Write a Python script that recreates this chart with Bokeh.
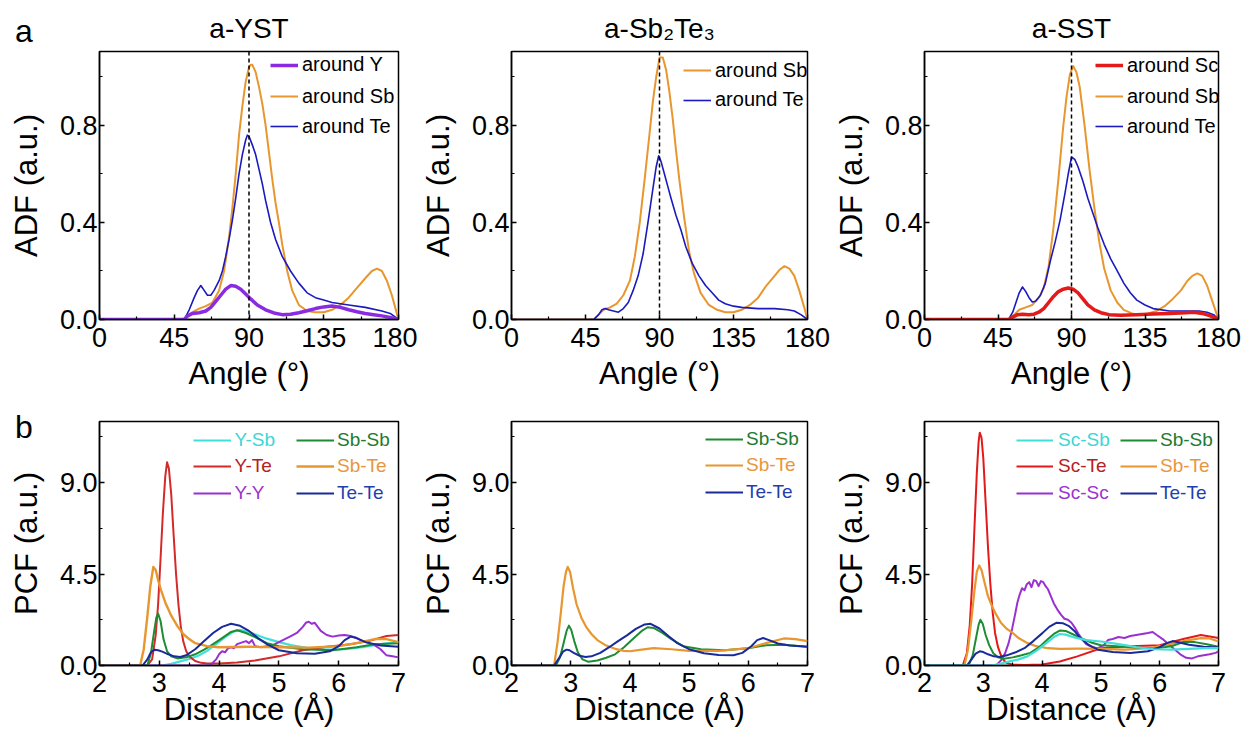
from bokeh.plotting import figure
from bokeh.models import (Range1d, FixedTicker, PrintfTickFormatter, Span,
                          Legend, LegendItem, GridBox, Div)
from bokeh.embed import file_html
from bokeh.resources import INLINE

FONT = "Liberation Sans"

# ---------------- ADF data (angle in degrees, ADF in a.u.) ----------------
# a-YST
yst_Y_ang = [0, 51, 53, 56, 60, 64, 67, 70, 73, 76, 79, 82, 85, 88, 91, 95, 100, 105, 110, 115, 120,
             125, 130, 135, 140, 145, 150, 155, 160, 165, 170, 175, 180]
yst_Y_adf = [0, 0, 0.015, 0.025, 0.028, 0.035, 0.05, 0.075, 0.1, 0.125, 0.14, 0.137, 0.125, 0.105,
             0.085, 0.06, 0.04, 0.027, 0.02, 0.022, 0.028, 0.036, 0.045, 0.052, 0.056, 0.05, 0.04,
             0.032, 0.025, 0.02, 0.015, 0.008, 0.0]
yst_Sb_ang = [0, 50, 53, 56, 60, 64, 68, 72, 75, 78, 80, 82, 84, 86, 88, 90, 91, 92, 94, 96, 98, 100,
              102, 104, 106, 108, 110, 113, 116, 120, 125, 130, 135, 140, 145, 150, 155, 160, 164,
              167, 170, 173, 176, 178, 180]
yst_Sb_adf = [0, 0, 0.01, 0.03, 0.045, 0.055, 0.07, 0.12, 0.2, 0.34, 0.46, 0.6, 0.76, 0.88, 0.98,
              1.04, 1.05, 1.05, 1.02, 0.96, 0.89, 0.8, 0.69, 0.58, 0.48, 0.4, 0.31, 0.2, 0.12, 0.06,
              0.035, 0.03, 0.03, 0.04, 0.06, 0.09, 0.13, 0.17, 0.2, 0.21, 0.2, 0.16, 0.1, 0.05, 0.0]
yst_Te_ang = [0, 51, 54, 57, 59, 61, 63, 65, 67, 69, 72, 74, 76, 78, 80, 82, 84, 86, 88, 89, 90, 92,
              94, 96, 98, 100, 103, 106, 110, 115, 120, 125, 130, 135, 140, 150, 160, 170, 175, 180]
yst_Te_adf = [0, 0, 0.04, 0.09, 0.12, 0.14, 0.12, 0.1, 0.1, 0.12, 0.16, 0.2, 0.26, 0.33, 0.41, 0.5,
              0.6, 0.68, 0.74, 0.76, 0.755, 0.72, 0.68, 0.62, 0.56, 0.49, 0.4, 0.33, 0.26, 0.2, 0.15,
              0.11, 0.09, 0.08, 0.07, 0.06, 0.05, 0.035, 0.025, 0.0]

# a-Sb2Te3
st_Sb_ang = [0, 50, 53, 56, 60, 64, 68, 72, 75, 78, 81, 84, 86, 88, 90, 92, 94, 96, 98, 100, 102,
             105, 108, 111, 115, 120, 125, 130, 135, 140, 145, 150, 155, 160, 163, 166, 169, 172,
             175, 178, 180]
st_Sb_adf = [0, 0, 0.02, 0.04, 0.05, 0.065, 0.1, 0.16, 0.26, 0.4, 0.58, 0.77, 0.9, 1.0, 1.08, 1.08,
             1.03, 0.94, 0.83, 0.7, 0.58, 0.42, 0.28, 0.19, 0.11, 0.06, 0.04, 0.03, 0.03, 0.04, 0.06,
             0.09, 0.14, 0.18, 0.205, 0.22, 0.21, 0.18, 0.12, 0.05, 0.0]
st_Te_ang = [0, 50, 53, 55, 57, 59, 62, 65, 68, 71, 74, 77, 80, 83, 86, 88, 89.5, 91, 93, 95, 97,
             100, 103, 106, 110, 114, 118, 122, 126, 130, 135, 140, 150, 160, 168, 172, 176, 180]
st_Te_adf = [0, 0, 0.02, 0.04, 0.045, 0.04, 0.035, 0.03, 0.045, 0.07, 0.12, 0.18, 0.27, 0.4, 0.54,
             0.63, 0.675, 0.65, 0.6, 0.55, 0.5, 0.43, 0.37, 0.3, 0.23, 0.18, 0.14, 0.11, 0.08,
             0.065, 0.055, 0.05, 0.045, 0.045, 0.04, 0.035, 0.02, 0.0]

# a-SST
sst_Sc_ang = [0, 51.5, 54, 57, 60, 64, 67, 70, 73, 76, 79, 82, 85, 88, 91, 94, 97, 100, 104, 108,
              113, 120, 130, 140, 150, 160, 165, 170, 175, 180]
sst_Sc_adf = [0, 0, 0.01, 0.02, 0.022, 0.02, 0.022, 0.03, 0.045, 0.07, 0.095, 0.115, 0.125, 0.13,
              0.125, 0.11, 0.085, 0.06, 0.04, 0.028, 0.02, 0.018, 0.02, 0.023, 0.025, 0.028, 0.03,
              0.025, 0.015, 0.0]
sst_Sb_ang = [0, 52, 55, 58, 62, 66, 70, 73, 76, 79, 82, 85, 87, 89, 91, 93, 95, 98, 101, 104, 107,
              110, 114, 118, 122, 127, 132, 137, 142, 147, 152, 157, 161, 164, 167, 170, 173, 176, 180]
sst_Sb_adf = [0, 0, 0.02, 0.04, 0.05, 0.06, 0.09, 0.13, 0.22, 0.38, 0.58, 0.8, 0.92, 1.01, 1.045,
              1.02, 0.96, 0.8, 0.62, 0.46, 0.32, 0.21, 0.12, 0.07, 0.04, 0.025, 0.02, 0.025, 0.035,
              0.055, 0.085, 0.12, 0.16, 0.18, 0.19, 0.18, 0.14, 0.08, 0.0]
sst_Te_ang = [0, 51.5, 54, 56, 58, 60, 62, 64, 66, 68, 71, 74, 77, 80, 83, 86, 88, 90, 92, 94, 97,
              100, 103, 106, 110, 114, 118, 122, 126, 130, 135, 140, 150, 160, 168, 173, 177, 180]
sst_Te_adf = [0, 0, 0.03, 0.07, 0.11, 0.134, 0.115, 0.09, 0.072, 0.075, 0.1, 0.15, 0.24, 0.32, 0.41,
              0.52, 0.6, 0.67, 0.66, 0.63, 0.57, 0.5, 0.44, 0.38, 0.31, 0.25, 0.2, 0.15, 0.11, 0.08,
              0.06, 0.045, 0.035, 0.035, 0.035, 0.03, 0.02, 0.0]

# ---------------- PCF data (distance in Angstrom, PCF in a.u.) ----------------
# a-YST
yst_YSb_r = [2.0, 3.05, 3.2, 3.35, 3.5, 3.65, 3.8, 3.95, 4.1, 4.25, 4.35, 4.5, 4.65, 4.8, 5.0, 5.2,
             5.5, 5.8, 6.1, 6.4, 6.7, 7.0]
yst_YSb_g = [0, 0, 0.08, 0.2, 0.32, 0.48, 0.72, 1.05, 1.4, 1.68, 1.75, 1.65, 1.48, 1.32, 1.15, 1.0,
             0.85, 0.78, 0.8, 0.9, 1.05, 1.15]
yst_YTe_r = [2.0, 2.8, 2.88, 2.94, 2.98, 3.02, 3.06, 3.1, 3.13, 3.16, 3.2, 3.24, 3.28, 3.32, 3.36,
             3.4, 3.45, 3.5, 3.6, 3.7, 3.8, 4.0, 4.3, 4.6, 5.0, 5.4, 5.8, 6.2, 6.5, 6.8, 7.0]
yst_YTe_g = [0, 0, 0.3, 1.5, 3.0, 5.2, 7.5, 9.3, 10.0, 9.7, 8.4, 6.4, 4.5, 3.0, 1.9, 1.2, 0.7, 0.45,
             0.22, 0.13, 0.1, 0.1, 0.15, 0.25, 0.45, 0.75, 0.92, 1.05, 1.2, 1.45, 1.5]
yst_YY_r = [2.0, 3.85, 3.95, 4.0, 4.05, 4.1, 4.15, 4.2, 4.25, 4.3, 4.35, 4.4, 4.45, 4.5, 4.55, 4.6,
            4.7, 4.8, 4.9, 5.0, 5.1, 5.2, 5.3, 5.4, 5.45, 5.5, 5.55, 5.6, 5.65, 5.7, 5.8, 5.9, 6.0,
            6.1, 6.2, 6.3, 6.4, 6.5, 6.6, 6.7, 6.8, 6.9, 7.0]
yst_YY_g = [0, 0, 0.3, 0.55, 0.7, 0.65, 0.85, 0.9, 0.85, 1.05, 1.1, 1.15, 1.2, 1.1, 1.25, 0.95, 0.9,
            0.95, 1.0, 1.15, 1.3, 1.45, 1.6, 1.9, 2.1, 2.15, 2.05, 2.1, 1.9, 1.7, 1.5, 1.42, 1.48,
            1.5, 1.45, 1.35, 1.2, 1.1, 1.0, 0.8, 0.5, 0.45, 0.4]
yst_SbSb_r = [2.0, 2.8, 2.86, 2.91, 2.95, 2.98, 3.02, 3.07, 3.13, 3.2, 3.3, 3.45, 3.6, 3.75, 3.9,
              4.05, 4.2, 4.3, 4.45, 4.6, 4.8, 5.0, 5.4, 5.9, 6.3, 6.6, 7.0]
yst_SbSb_g = [0, 0, 0.6, 1.6, 2.35, 2.55, 2.2, 1.3, 0.7, 0.45, 0.35, 0.4, 0.55, 0.78, 1.05, 1.35,
              1.65, 1.73, 1.6, 1.4, 1.1, 0.95, 0.8, 0.75, 0.9, 1.05, 1.1]
yst_SbTe_r = [2.0, 2.68, 2.74, 2.8, 2.85, 2.9, 2.94, 2.98, 3.03, 3.1, 3.2, 3.3, 3.4, 3.5, 3.6, 3.8,
              4.0, 4.5, 5.0, 5.5, 6.0, 6.3, 6.6, 6.8, 7.0]
yst_SbTe_g = [0, 0, 0.8, 2.4, 3.9, 4.85, 4.7, 4.2, 3.7, 3.1, 2.45, 1.95, 1.55, 1.3, 1.1, 0.95, 0.9,
              0.92, 0.9, 0.88, 0.95, 1.1, 1.3, 1.3, 1.15]
yst_TeTe_r = [2.0, 2.72, 2.8, 2.86, 2.92, 2.98, 3.05, 3.15, 3.25, 3.35, 3.45, 3.6, 3.75, 3.9, 4.05,
              4.2, 4.35, 4.5, 4.65, 4.8, 5.0, 5.3, 5.6, 5.85, 6.0, 6.1, 6.2, 6.3, 6.45, 6.7, 7.0]
yst_TeTe_g = [0, 0, 0.3, 0.65, 0.78, 0.75, 0.68, 0.55, 0.45, 0.42, 0.5, 0.8, 1.2, 1.6, 1.9, 2.05,
              1.95, 1.7, 1.35, 1.05, 0.75, 0.6, 0.58, 0.7, 0.95, 1.25, 1.42, 1.35, 1.15, 0.98, 0.92]

# a-Sb2Te3
st_SbSb_r = [2.0, 2.75, 2.82, 2.88, 2.93, 2.97, 3.01, 3.06, 3.12, 3.2, 3.3, 3.45, 3.6, 3.75, 3.9,
             4.05, 4.2, 4.3, 4.4, 4.55, 4.7, 4.9, 5.2, 5.6, 6.0, 6.3, 6.6, 7.0]
st_SbSb_g = [0, 0, 0.4, 1.1, 1.7, 1.96, 1.75, 1.2, 0.65, 0.3, 0.18, 0.25, 0.38, 0.55, 0.9, 1.3, 1.7,
             1.88, 1.85, 1.6, 1.3, 0.95, 0.8, 0.75, 0.85, 1.0, 1.02, 0.92]
st_SbTe_r = [2.0, 2.72, 2.78, 2.83, 2.88, 2.92, 2.95, 2.99, 3.04, 3.1, 3.18, 3.26, 3.35, 3.45, 3.6,
             3.75, 3.9, 4.0, 4.2, 4.4, 4.7, 5.0, 5.5, 6.0, 6.3, 6.6, 6.8, 7.0]
st_SbTe_g = [0, 0, 1.2, 2.5, 3.9, 4.6, 4.85, 4.6, 3.8, 3.0, 2.35, 1.9, 1.55, 1.25, 0.98, 0.82, 0.72,
             0.7, 0.78, 0.85, 0.8, 0.72, 0.72, 0.85, 1.1, 1.33, 1.3, 1.2]
st_TeTe_r = [2.0, 2.72, 2.8, 2.87, 2.93, 2.98, 3.05, 3.15, 3.25, 3.35, 3.5, 3.65, 3.8, 3.95, 4.1,
             4.25, 4.35, 4.5, 4.65, 4.8, 5.0, 5.25, 5.5, 5.75, 5.9, 6.05, 6.15, 6.25, 6.35, 6.5, 6.7,
             7.0]
st_TeTe_g = [0, 0, 0.35, 0.68, 0.78, 0.75, 0.62, 0.48, 0.42, 0.45, 0.62, 0.9, 1.2, 1.48, 1.8, 2.02,
             2.05, 1.82, 1.45, 1.1, 0.8, 0.6, 0.52, 0.5, 0.62, 0.95, 1.25, 1.35, 1.25, 1.08, 0.98,
             0.92]

# a-SST
sst_ScSb_r = [2.0, 3.15, 3.3, 3.45, 3.6, 3.75, 3.9, 4.05, 4.2, 4.3, 4.4, 4.55, 4.75, 5.0, 5.3, 5.6,
              5.9, 6.2, 6.5, 6.8, 7.0]
sst_ScSb_g = [0, 0, 0.1, 0.2, 0.3, 0.45, 0.72, 1.05, 1.4, 1.55, 1.52, 1.38, 1.25, 1.18, 1.05, 0.9,
              0.8, 0.78, 0.82, 0.85, 0.85]
sst_ScTe_r = [2.0, 2.65, 2.72, 2.77, 2.81, 2.85, 2.89, 2.92, 2.94, 2.97, 3.0, 3.04, 3.08, 3.12, 3.16,
              3.2, 3.25, 3.3, 3.35, 3.4, 3.5, 3.7, 4.0, 4.3, 4.6, 5.0, 5.5, 6.0, 6.4, 6.7, 7.0]
sst_ScTe_g = [0, 0, 0.6, 2.0, 4.0, 6.8, 9.5, 11.0, 11.45, 11.2, 10.2, 8.0, 5.8, 4.0, 2.6, 1.6, 0.9,
              0.5, 0.25, 0.12, 0.04, 0.02, 0.05, 0.2, 0.45, 0.85, 0.95, 1.0, 1.3, 1.5, 1.35]
sst_ScSc_r = [2.0, 3.22, 3.3, 3.37, 3.43, 3.49, 3.54, 3.58, 3.62, 3.66, 3.7, 3.74, 3.78, 3.82, 3.86,
              3.9, 3.94, 3.98, 4.02, 4.06, 4.1, 4.15, 4.2, 4.26, 4.32, 4.38, 4.44, 4.5, 4.56, 4.62,
              4.68, 4.75, 4.85, 4.95, 5.05, 5.12, 5.2, 5.3, 5.4, 5.5, 5.6, 5.7, 5.8, 5.88, 5.95,
              6.05, 6.15, 6.25, 6.35, 6.45, 6.55, 6.65, 6.75, 6.85, 6.95, 7.0]
sst_ScSc_g = [0, 0, 0.25, 0.6, 1.1, 1.8, 2.5, 3.1, 3.5, 3.8, 3.7, 4.0, 4.1, 3.85, 4.2, 4.15, 3.9,
              4.15, 4.1, 3.9, 3.75, 3.4, 3.05, 2.75, 2.5, 2.3, 2.25, 2.1, 1.85, 1.55, 1.3, 1.05, 0.9,
              0.85, 1.0, 1.25, 1.3, 1.4, 1.35, 1.45, 1.5, 1.55, 1.6, 1.65, 1.5, 1.3, 1.05, 0.8,
              0.55, 0.38, 0.35, 0.45, 0.5, 0.55, 0.62, 0.7]
sst_SbSb_r = [2.0, 2.75, 2.82, 2.88, 2.92, 2.95, 2.99, 3.04, 3.1, 3.17, 3.25, 3.35, 3.5, 3.65, 3.8,
              3.95, 4.1, 4.2, 4.3, 4.4, 4.55, 4.7, 4.85, 5.0, 5.4, 5.9, 6.2, 6.4, 6.6, 6.8, 7.0]
sst_SbSb_g = [0, 0, 0.5, 1.4, 2.0, 2.25, 2.05, 1.5, 1.0, 0.6, 0.4, 0.33, 0.4, 0.5, 0.62, 0.9, 1.3,
              1.55, 1.72, 1.7, 1.5, 1.3, 1.12, 1.0, 0.92, 0.83, 0.95, 1.15, 1.15, 1.05, 0.92]
sst_SbTe_r = [2.0, 2.68, 2.74, 2.8, 2.85, 2.89, 2.93, 2.97, 3.02, 3.08, 3.15, 3.22, 3.3, 3.4, 3.5,
              3.6, 3.75, 3.9, 4.1, 4.3, 4.6, 5.0, 5.4, 5.8, 6.1, 6.4, 6.7, 6.85, 7.0]
sst_SbTe_g = [0, 0, 0.8, 2.3, 3.7, 4.6, 4.92, 4.7, 4.1, 3.4, 2.9, 2.5, 2.1, 1.8, 1.6, 1.35, 1.1,
              0.95, 0.85, 0.82, 0.83, 0.82, 0.78, 0.85, 1.0, 1.2, 1.35, 1.33, 1.18]
sst_TeTe_r = [2.0, 2.72, 2.8, 2.87, 2.94, 3.0, 3.08, 3.18, 3.28, 3.4, 3.55, 3.7, 3.85, 4.0, 4.12,
              4.24, 4.35, 4.45, 4.55, 4.65, 4.8, 4.95, 5.2, 5.5, 5.8, 6.0, 6.12, 6.22, 6.35, 6.5,
              6.75, 7.0]
sst_TeTe_g = [0, 0, 0.3, 0.58, 0.7, 0.66, 0.55, 0.45, 0.42, 0.5, 0.65, 0.85, 1.2, 1.58, 1.9, 2.1,
              2.08, 1.95, 1.7, 1.35, 1.0, 0.78, 0.66, 0.62, 0.7, 0.9, 1.1, 1.2, 1.12, 1.02, 0.92,
              0.88]

# ---------------- ticks / labels ----------------
adf_xticks = [0, 45, 90, 135, 180]
adf_xminor = [22.5, 67.5, 112.5, 157.5]
adf_yticks = [0.0, 0.4, 0.8]
adf_yminor = [0.2, 0.6, 1.0]
pcf_xticks = [2, 3, 4, 5, 6, 7]
pcf_xminor = [2.5, 3.5, 4.5, 5.5, 6.5]
pcf_yticks = [0.0, 4.5, 9.0]
pcf_yminor = [2.25, 6.75, 11.25]
titles = ["a-YST", "a-Sb\u2082Te\u2083", "a-SST"]
panel_letters = ["a", "b"]

# colours
C_PURPLE = "#8A2BE2"
C_ORANGE = "#E8962E"
C_BLUE = "#1A1ABE"
C_RED = "#E41A1A"
C_CYAN = "#40E0D8"
C_RED2 = "#D42A2A"
C_PURPLE2 = "#9B30D0"
C_GREEN = "#1E8C32"
C_NAVY = "#1A2A9A"
T_CYAN = "#3CD6D6"
T_RED = "#B52020"
T_PURPLE = "#9933CC"
T_GREEN = "#237A2F"
T_ORANGE = "#E8963C"
T_NAVY = "#1F3FAF"

COL_W = [417, 413, 415]
COL_L = [99, 91, 89]
ROW_H = [400, 335]
FRAME_W = 299


def make_fig(col, row):
    if row == 0:
        top, fh = 51, 268
        xr, yr = Range1d(0, 180), Range1d(0, 1.105)
    else:
        top, fh = 21, 244
        xr, yr = Range1d(2, 7), Range1d(0, 12)
    w, h = COL_W[col], ROW_H[row]
    p = figure(width=w, height=h, x_range=xr, y_range=yr, output_backend="svg",
               toolbar_location=None, min_border_left=COL_L[col],
               min_border_right=w - COL_L[col] - FRAME_W, min_border_top=top,
               min_border_bottom=h - top - fh, background_fill_color="white",
               border_fill_color="white")
    p.xgrid.visible = False
    p.ygrid.visible = False
    p.outline_line_color = "black"
    p.outline_line_width = 1.5
    p.outline_line_alpha = 1.0
    if row == 0:
        p.xaxis.ticker = FixedTicker(ticks=adf_xticks, minor_ticks=adf_xminor)
        p.yaxis.ticker = FixedTicker(ticks=adf_yticks, minor_ticks=adf_yminor)
        p.xaxis.axis_label = "Angle (\u00b0)"
        p.yaxis.axis_label = "ADF (a.u.)"
        p.xaxis.major_label_standoff = 8
        p.xaxis.axis_label_standoff = 6
    else:
        p.xaxis.ticker = FixedTicker(ticks=pcf_xticks, minor_ticks=pcf_xminor)
        p.yaxis.ticker = FixedTicker(ticks=pcf_yticks, minor_ticks=pcf_yminor)
        p.xaxis.axis_label = "Distance (\u00c5)"
        p.yaxis.axis_label = "PCF (a.u.)"
        p.xaxis.major_label_standoff = 7
        p.xaxis.axis_label_standoff = -3
    p.yaxis.formatter = PrintfTickFormatter(format="%.1f")
    p.yaxis.major_label_standoff = 2
    p.yaxis.axis_label_standoff = 13
    for ax in (p.xaxis[0], p.yaxis[0]):
        ax.major_tick_in = 5
        ax.major_tick_out = 0
        ax.minor_tick_in = 3
        ax.minor_tick_out = 0
        ax.axis_line_width = 1.5
        ax.major_tick_line_width = 1.5
        ax.minor_tick_line_width = 1.2
        ax.major_label_text_font = FONT
        ax.major_label_text_font_size = "27px"
        ax.major_label_text_color = "black"
        ax.axis_label_text_font = FONT
        ax.axis_label_text_font_size = "31px"
        ax.axis_label_text_font_style = "normal"
        ax.axis_label_text_color = "black"
    if row == 0:
        p.title.text = titles[col]
        p.title.align = "center"
        p.title.text_font = FONT
        p.title.text_font_size = "28px"
        p.title.text_font_style = "normal"
        p.title.text_color = "black"
        p.title.standoff = 16
    return p


def add_legend(p, r, label, x, yc, color, standoff, gw, size="20px"):
    H = 22
    lg = Legend(items=[LegendItem(label=label, renderers=[r])], location=(x, yc - H / 2),
                padding=0, margin=0, spacing=0, glyph_width=gw, glyph_height=H, label_height=H,
                label_standoff=standoff, label_text_font=FONT, label_text_font_size=size,
                label_text_color=color, border_line_color=None, background_fill_alpha=0)
    p.add_layout(lg)


figs = [[make_fig(c, r) for c in range(3)] for r in range(2)]

# ---------- top row: ADF ----------
p1, p2, p3 = figs[0]
for p in (p1, p2, p3):
    p.add_layout(Span(location=90, dimension="height", line_color="black",
                      line_dash="4 3", line_width=1.5))

r_sb = p1.line(yst_Sb_ang, yst_Sb_adf, line_color=C_ORANGE, line_width=2, line_join="round")
r_te = p1.line(yst_Te_ang, yst_Te_adf, line_color=C_BLUE, line_width=1.6, line_join="round")
r_y = p1.line(yst_Y_ang, yst_Y_adf, line_color=C_PURPLE, line_width=3.5, line_join="round")
add_legend(p1, r_y, "around Y", 171, 319 - 65, "black", 4, 28)
add_legend(p1, r_sb, "around Sb", 171, 319 - 96.5, "black", 4, 28)
add_legend(p1, r_te, "around Te", 171, 319 - 126.5, "black", 4, 28)

r_sb = p2.line(st_Sb_ang, st_Sb_adf, line_color=C_ORANGE, line_width=2, line_join="round")
r_te = p2.line(st_Te_ang, st_Te_adf, line_color=C_BLUE, line_width=1.6, line_join="round")
add_legend(p2, r_sb, "around Sb", 172, 319 - 70.5, "black", 4, 28)
add_legend(p2, r_te, "around Te", 172, 319 - 100, "black", 4, 28)

r_sb = p3.line(sst_Sb_ang, sst_Sb_adf, line_color=C_ORANGE, line_width=2, line_join="round")
r_te = p3.line(sst_Te_ang, sst_Te_adf, line_color=C_BLUE, line_width=1.6, line_join="round")
r_sc = p3.line(sst_Sc_ang, sst_Sc_adf, line_color=C_RED, line_width=3.5, line_join="round")
add_legend(p3, r_sc, "around Sc", 171, 319 - 65.5, "black", 4, 28)
add_legend(p3, r_sb, "around Sb", 171, 319 - 96.5, "black", 4, 28)
add_legend(p3, r_te, "around Te", 171, 319 - 126.5, "black", 4, 28)

# ---------- bottom row: PCF ----------
p4, p5, p6 = figs[1]
rows_y = [665 - 439.5, 665 - 466, 665 - 493]
LS = "19px"

r1 = p4.line(yst_YSb_r, yst_YSb_g, line_color=C_CYAN, line_width=2.2, line_join="round")
r2 = p4.line(yst_YTe_r, yst_YTe_g, line_color=C_RED2, line_width=2, line_join="round")
r3 = p4.line(yst_YY_r, yst_YY_g, line_color=C_PURPLE2, line_width=2, line_join="round")
r4 = p4.line(yst_SbSb_r, yst_SbSb_g, line_color=C_GREEN, line_width=2, line_join="round")
r5 = p4.line(yst_SbTe_r, yst_SbTe_g, line_color=C_ORANGE, line_width=2.4, line_join="round")
r6 = p4.line(yst_TeTe_r, yst_TeTe_g, line_color=C_NAVY, line_width=2, line_join="round")
add_legend(p4, r1, "Y-Sb", 93.5, rows_y[0], T_CYAN, 4, 38, LS)
add_legend(p4, r2, "Y-Te", 93.5, rows_y[1], T_RED, 4, 38, LS)
add_legend(p4, r3, "Y-Y", 93.5, rows_y[2], T_PURPLE, 4, 38, LS)
add_legend(p4, r4, "Sb-Sb", 197, rows_y[0], T_GREEN, 3, 38, LS)
add_legend(p4, r5, "Sb-Te", 197, rows_y[1], T_ORANGE, 3, 38, LS)
add_legend(p4, r6, "Te-Te", 197, rows_y[2], T_NAVY, 3, 38, LS)

r4 = p5.line(st_SbSb_r, st_SbSb_g, line_color=C_GREEN, line_width=2, line_join="round")
r5 = p5.line(st_SbTe_r, st_SbTe_g, line_color=C_ORANGE, line_width=2.2, line_join="round")
r6 = p5.line(st_TeTe_r, st_TeTe_g, line_color=C_NAVY, line_width=2, line_join="round")
add_legend(p5, r4, "Sb-Sb", 194, rows_y[0] + 1, T_GREEN, 3, 38, LS)
add_legend(p5, r5, "Sb-Te", 194, rows_y[1] + 1, T_ORANGE, 3, 38, LS)
add_legend(p5, r6, "Te-Te", 194, rows_y[2] + 1, T_NAVY, 3, 38, LS)

r2 = p6.line(sst_ScTe_r, sst_ScTe_g, line_color=C_RED, line_width=2, line_join="round")
r3 = p6.line(sst_ScSc_r, sst_ScSc_g, line_color=C_PURPLE2, line_width=2, line_join="round")
r5 = p6.line(sst_SbTe_r, sst_SbTe_g, line_color=C_ORANGE, line_width=2.2, line_join="round")
r4 = p6.line(sst_SbSb_r, sst_SbSb_g, line_color=C_GREEN, line_width=2, line_join="round")
r6 = p6.line(sst_TeTe_r, sst_TeTe_g, line_color=C_NAVY, line_width=2, line_join="round")
r1 = p6.line(sst_ScSb_r, sst_ScSb_g, line_color=C_CYAN, line_width=2.2, line_join="round")
add_legend(p6, r1, "Sc-Sb", 92, rows_y[0], T_CYAN, 5, 37, LS)
add_legend(p6, r2, "Sc-Te", 92, rows_y[1], T_RED, 5, 37, LS)
add_legend(p6, r3, "Sc-Sc", 92, rows_y[2], T_PURPLE, 5, 37, LS)
add_legend(p6, r4, "Sb-Sb", 196, rows_y[0], T_GREEN, 3, 37, LS)
add_legend(p6, r5, "Sb-Te", 196, rows_y[1], T_ORANGE, 3, 37, LS)
add_legend(p6, r6, "Te-Te", 196, rows_y[2], T_NAVY, 3, 37, LS)

# ---------- transparent overlay on the left column carrying the panel letters ----------
ov_h = ROW_H[0] + ROW_H[1]
letter_style = ("position:absolute;left:15px;top:{top}px;margin:0;padding:0;"
                "font-family:'Liberation Sans';font-size:32px;line-height:32px;color:black;")
letters_html = (
    '<div style="position:relative;width:%dpx;height:%dpx;margin:0;padding:0;">' % (COL_W[0], ov_h)
    + '<span style="%s">%s</span>' % (letter_style.format(top=15), panel_letters[0])
    + '<span style="%s">%s</span>' % (letter_style.format(top=411), panel_letters[1])
    + '</div>'
)
letters = Div(text=letters_html, width=COL_W[0], height=ov_h,
              styles={"margin": "0", "padding": "0", "pointer-events": "none"})

grid = GridBox(children=[(p1, 0, 0), (p2, 0, 1), (p3, 0, 2),
                         (p4, 1, 0), (p5, 1, 1), (p6, 1, 2),
                         (letters, 0, 0, 2, 1)], spacing=0)
open("out.html", "w").write(file_html(grid, INLINE))
